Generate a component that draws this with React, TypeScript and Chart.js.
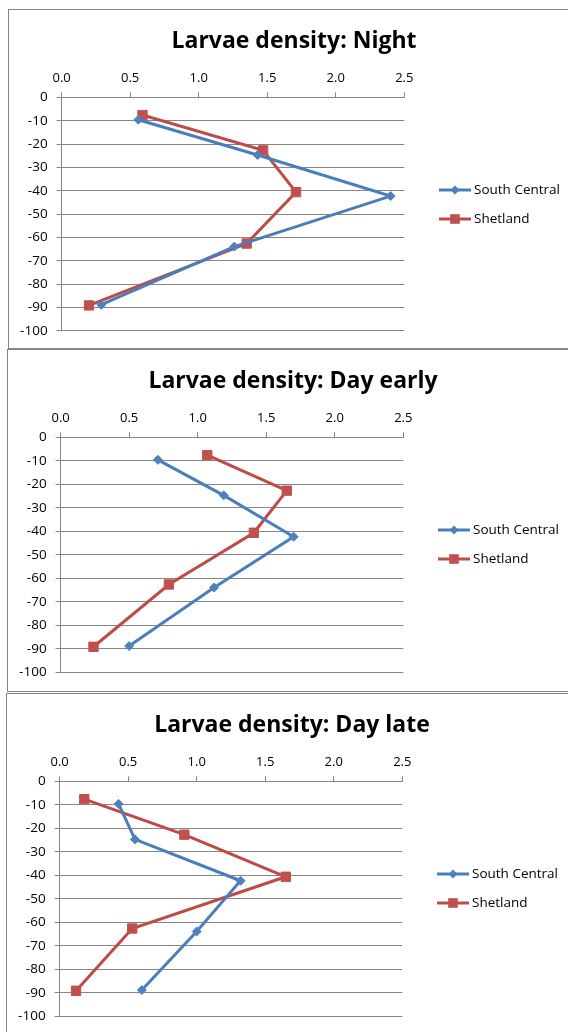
import React, { useEffect, useRef } from 'react';
import { Chart, registerables } from 'chart.js';
Chart.register(...registerables);

const seriesNames = ['South Central', 'Shetland'];
const panelTitles = ['Larvae density: Night', 'Larvae density: Day early', 'Larvae density: Day late'];
const xTickValues = [0, 0.5, 1, 1.5, 2, 2.5];
const yTickValues = [0, -10, -20, -30, -40, -50, -60, -70, -80, -90, -100];

const southCentralDepths = [-9.6, -24.7, -42.3, -63.9, -88.8];
const shetlandDepths = [-7.6, -22.7, -40.6, -62.6, -89.1];

const nightSouthCentral = [0.56, 1.43, 2.4, 1.26, 0.29];
const nightShetland = [0.59, 1.47, 1.71, 1.35, 0.2];
const dayEarlySouthCentral = [0.71, 1.19, 1.7, 1.12, 0.5];
const dayEarlyShetland = [1.07, 1.65, 1.41, 0.79, 0.24];
const dayLateSouthCentral = [0.43, 0.55, 1.32, 1.0, 0.6];
const dayLateShetland = [0.18, 0.91, 1.65, 0.53, 0.12];

const BLUE_LINE = '#4A7EBB';
const BLUE_MARK = '#4F81BD';
const RED_LINE = '#BE4B48';
const RED_MARK = '#C0504D';
const GRID = '#868686';
const FONT = '"Open Sans", "Noto Sans", sans-serif';

const CANVAS_W = 570;
const AREA_LEFT = 52.6;
const AREA_RIGHT = 395.3;
const AREA_TOP = 87.3;
const AREA_BOTTOM = 322.4;
const TITLE_SIZE = 23;
const TITLE_PAD_TOP = 18;

const legendPlugin = {
  id: 'excelLegend',
  afterDraw(chart: any) {
    const ctx = chart.ctx;
    chart.data.datasets.forEach((ds: any, i: number) => {
      const y = 180 + i * 29;
      ctx.save();
      ctx.strokeStyle = ds.borderColor;
      ctx.lineWidth = 3;
      ctx.beginPath();
      ctx.moveTo(430, y);
      ctx.lineTo(462, y);
      ctx.stroke();
      ctx.fillStyle = ds.pointBackgroundColor;
      ctx.beginPath();
      const cx = 446;
      if (ds.pointStyle === 'rectRot') {
        const r = 4.5;
        ctx.moveTo(cx - r, y);
        ctx.lineTo(cx, y - r);
        ctx.lineTo(cx + r, y);
        ctx.lineTo(cx, y + r);
        ctx.closePath();
      } else {
        const h = 4.8;
        ctx.rect(cx - h, y - h, 2 * h, 2 * h);
      }
      ctx.fill();
      ctx.fillStyle = '#000';
      ctx.font = `13.5px ${FONT}`;
      ctx.textBaseline = 'middle';
      ctx.textAlign = 'left';
      ctx.fillText(ds.label, 465, y + 0.5);
      ctx.restore();
    });
  },
};

function toPoints(xs: number[], ys: number[]) {
  return xs.map((x, i) => ({ x, y: ys[i] }));
}

type PanelProps = {
  title: string;
  sc: number[];
  sh: number[];
  left: number;
  top: number;
  height: number;
};

function Panel({ title, sc, sh, left, top, height }: PanelProps) {
  const ref = useRef<HTMLCanvasElement | null>(null);
  const canvasH = height - 2;
  useEffect(() => {
    if (!ref.current) return;
    const titleHeight = TITLE_PAD_TOP + TITLE_SIZE * 1.2;
    const chart = new Chart(ref.current, {
      type: 'scatter',
      data: {
        datasets: [
          {
            label: seriesNames[0],
            data: toPoints(sc, southCentralDepths),
            showLine: true,
            borderColor: BLUE_LINE,
            borderWidth: 3,
            pointStyle: 'rectRot',
            pointRadius: 4.5,
            pointBackgroundColor: BLUE_MARK,
            pointBorderColor: BLUE_MARK,
            pointBorderWidth: 1,
            tension: 0,
          },
          {
            label: seriesNames[1],
            data: toPoints(sh, shetlandDepths),
            showLine: true,
            borderColor: RED_LINE,
            borderWidth: 3,
            pointStyle: 'rect',
            pointRadius: 6.6,
            pointBackgroundColor: RED_MARK,
            pointBorderColor: RED_MARK,
            pointBorderWidth: 1,
            tension: 0,
          },
        ],
      },
      options: {
        animation: false,
        responsive: false,
        maintainAspectRatio: false,
        events: [],
        layout: {
          padding: {
            left: 0,
            top: 0,
            right: 0,
            bottom: canvasH - AREA_BOTTOM,
          },
        },
        plugins: {
          legend: { display: false },
          tooltip: { enabled: false },
          title: {
            display: true,
            text: title,
            color: '#000',
            font: { family: FONT, size: TITLE_SIZE, weight: 'bold', lineHeight: 1.2 },
            padding: { top: TITLE_PAD_TOP, bottom: 0 },
          },
        },
        scales: {
          x: {
            type: 'linear',
            position: 'top',
            min: 0,
            max: 2.5,
            afterBuildTicks: (scale: any) => {
              scale.ticks = xTickValues.map((v) => ({ value: v }));
            },
            afterFit: (scale: any) => {
              scale.height = AREA_TOP - titleHeight;
            },
            ticks: {
              color: '#000',
              font: { family: FONT, size: 13 },
              padding: 6,
              maxRotation: 0,
              callback: (v: any) => Number(v).toFixed(1),
            },
            grid: {
              drawOnChartArea: false,
              drawTicks: true,
              tickLength: 5,
              color: GRID,
              lineWidth: 1,
            },
            border: { display: true, color: GRID, width: 1 },
          },
          y: {
            type: 'linear',
            position: 'left',
            min: -100,
            max: 0,
            afterBuildTicks: (scale: any) => {
              scale.ticks = yTickValues.map((v) => ({ value: v }));
            },
            afterFit: (scale: any) => {
              scale.width = AREA_LEFT;
            },
            ticks: {
              color: '#000',
              font: { family: FONT, size: 13.5 },
              padding: 9,
              callback: (v: any) => String(v),
            },
            grid: {
              drawOnChartArea: true,
              drawTicks: true,
              tickLength: 5,
              color: GRID,
              lineWidth: 1,
            },
            border: { display: true, color: GRID, width: 1 },
          },
          legendSpace: {
            type: 'linear',
            position: 'right',
            display: true,
            afterFit: (scale: any) => {
              scale.width = CANVAS_W - AREA_RIGHT;
            },
            ticks: { display: false },
            grid: { display: false },
            border: { display: false },
          },
        },
      },
      plugins: [legendPlugin],
    } as any);
    return () => chart.destroy();
  }, [title, sc, sh, canvasH]);

  return (
    <div
      style={{
        position: 'absolute',
        left,
        top,
        width: CANVAS_W + 2,
        height,
        boxSizing: 'border-box',
        border: `1px solid ${GRID}`,
        background: '#fff',
      }}
    >
      <canvas
        ref={ref}
        width={CANVAS_W}
        height={canvasH}
        style={{ display: 'block', width: CANVAS_W, height: canvasH }}
      />
    </div>
  );
}

export default function App() {
  return (
    <div
      style={{
        position: 'fixed',
        left: 0,
        top: 0,
        width: 568,
        height: 1032,
        overflow: 'hidden',
        background: '#fff',
      }}
    >
      <Panel title={panelTitles[0]} sc={nightSouthCentral} sh={nightShetland} left={8} top={9} height={340} />
      <Panel title={panelTitles[1]} sc={dayEarlySouthCentral} sh={dayEarlyShetland} left={7} top={349} height={343} />
      <Panel title={panelTitles[2]} sc={dayLateSouthCentral} sh={dayLateShetland} left={6} top={693} height={345} />
    </div>
  );
}
